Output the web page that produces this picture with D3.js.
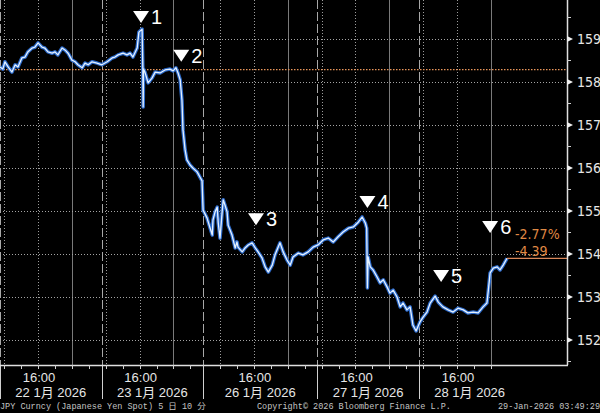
<!DOCTYPE html>
<html>
<head>
<meta charset="utf-8">
<script src="https://cdn.jsdelivr.net/npm/d3@7"></script>
<style>
  html, body { margin: 0; padding: 0; background: #000; }
  svg { display: block; }
</style>
</head>
<body>
<div id="chart"></div>
<script>
// USD/JPY 10 minute bars, Tokyo time
var times = [
  "01-22 07:00", "01-22 07:40", "01-22 08:10", "01-22 08:55", "01-22 09:50", "01-22 10:35",
  "01-22 11:15", "01-22 12:10", "01-22 12:55", "01-22 13:35", "01-22 14:35", "01-22 15:15",
  "01-22 16:00", "01-22 16:55", "01-22 17:35", "01-22 18:20", "01-22 19:20", "01-22 20:00",
  "01-22 20:40", "01-22 21:40", "01-22 22:25", "01-22 23:05", "01-23 00:00", "01-23 00:45",
  "01-23 01:25", "01-23 02:25", "01-23 03:05", "01-23 03:50", "01-23 04:45", "01-23 05:55",
  "01-23 07:05", "01-23 08:20", "01-23 09:30", "01-23 10:10", "01-23 10:55", "01-23 12:05",
  "01-23 13:00", "01-23 13:45", "01-23 14:25", "01-23 15:25", "01-23 15:50", "01-23 16:35",
  "01-23 16:45", "01-23 16:50", "01-23 16:55", "01-23 17:15", "01-23 18:00", "01-23 18:55",
  "01-23 19:40", "01-23 20:50", "01-23 22:00", "01-23 23:10", "01-23 23:55", "01-24 00:35",
  "01-24 01:05", "01-24 01:35", "01-24 02:00", "01-24 02:15", "01-24 02:45", "01-24 03:10",
  "01-24 03:55", "01-24 04:35", "01-24 05:35", "01-24 06:15", "01-24 06:45",
  "01-26 04:00", "01-26 04:55", "01-26 05:40", "01-26 06:10", "01-26 06:20", "01-26 06:50",
  "01-26 07:20", "01-26 07:35", "01-26 08:00", "01-26 08:30", "01-26 08:45", "01-26 09:10",
  "01-26 09:40", "01-26 09:55", "01-26 10:50", "01-26 11:35", "01-26 12:00", "01-26 12:15",
  "01-26 13:15", "01-26 13:55", "01-26 14:40", "01-26 15:35", "01-26 16:20", "01-26 17:00",
  "01-26 17:55", "01-26 18:40", "01-26 19:25", "01-26 20:20", "01-26 21:00", "01-26 22:10",
  "01-26 22:55", "01-26 23:50", "01-27 00:35", "01-27 01:15", "01-27 02:30", "01-27 03:35",
  "01-27 04:50", "01-27 06:00", "01-27 07:10", "01-27 08:25", "01-27 09:35", "01-27 10:45",
  "01-27 11:55", "01-27 13:05", "01-27 14:20", "01-27 15:30", "01-27 16:40", "01-27 17:35",
  "01-27 18:20", "01-27 18:40", "01-27 18:50", "01-27 19:00", "01-27 19:30", "01-27 20:10",
  "01-27 21:05", "01-27 21:50", "01-27 22:35", "01-27 23:30", "01-28 00:10", "01-28 00:55",
  "01-28 01:50", "01-28 02:35", "01-28 03:15", "01-28 04:10", "01-28 04:55", "01-28 05:35",
  "01-28 06:20", "01-28 07:15", "01-28 08:00", "01-28 08:55", "01-28 09:40", "01-28 10:50",
  "01-28 11:35", "01-28 12:40", "01-28 13:55", "01-28 15:05", "01-28 16:15", "01-28 17:30",
  "01-28 18:35", "01-28 19:50", "01-28 21:00", "01-28 22:10", "01-28 23:05", "01-28 23:25",
  "01-28 23:50", "01-29 00:35", "01-29 01:30", "01-29 02:10", "01-29 02:55", "01-29 03:50"
];
var prices = [
  158.35, 158.30, 158.47, 158.35, 158.23, 158.40,
  158.35, 158.56, 158.58, 158.70, 158.79, 158.81,
  158.91, 158.81, 158.79, 158.70, 158.67, 158.70,
  158.63, 158.79, 158.74, 158.67, 158.51, 158.47,
  158.40, 158.33, 158.44, 158.40, 158.47, 158.44,
  158.40, 158.47, 158.56, 158.58, 158.63, 158.67,
  158.63, 158.67, 158.58, 158.79, 159.16, 159.23,
  158.35, 157.42, 158.30, 158.23, 157.98, 158.09,
  158.23, 158.21, 158.28, 158.30, 158.26, 158.33,
  158.21, 158.05, 157.58, 156.88, 156.42, 156.19,
  156.07, 156.00, 155.91, 155.79, 155.70,
  155.02, 154.84, 154.60, 154.44, 154.79, 154.98,
  155.09, 154.72, 154.37, 154.98, 155.26, 155.14,
  154.98, 154.67, 154.44, 154.14, 154.28, 154.16,
  154.05, 154.14, 154.21, 154.26, 154.14, 154.05,
  153.91, 153.70, 153.58, 153.74, 153.98, 154.26,
  154.05, 153.86, 153.74, 153.93, 154.02, 153.98,
  154.05, 154.16, 154.21, 154.33, 154.37, 154.28,
  154.40, 154.51, 154.60, 154.63, 154.74, 154.86,
  154.72, 154.60, 153.21, 153.93, 153.70, 153.63,
  153.47, 153.33, 153.40, 153.23, 153.09, 153.16,
  153.00, 152.77, 152.86, 152.70, 152.77, 152.35,
  152.21, 152.42, 152.53, 152.65, 152.86, 153.02,
  152.88, 152.77, 152.70, 152.65, 152.74, 152.70,
  152.63, 152.65, 152.63, 152.77, 152.86, 153.16,
  153.56, 153.67, 153.70, 153.63, 153.74, 153.90
];

var prevClose = 158.29;
var lastPrice = 153.90;
var changeLabels = ["-2.77%", "-4.39"];

var markerIds = ["1", "2", "3", "4", "5", "6"];
var markerTimes = ["01-23 16:20", "01-24 01:50", "01-26 16:30", "01-27 18:50", "01-28 12:15", "01-28 23:50"];
var markerValues = [159.37, 158.47, 154.67, 155.07, 153.35, 154.49];

var yTicks = [152, 153, 154, 155, 156, 157, 158, 159];
var yMinorTicks = [151.5, 152.5, 153.5, 154.5, 155.5, 156.5, 157.5, 158.5, 159.5];

var dayLabels = ["22 1月 2026", "23 1月 2026", "26 1月 2026", "27 1月 2026", "28 1月 2026"];
var dayStarts = ["01-22 07:00", "01-23 07:00", "01-26 04:00", "01-27 07:00", "01-28 07:00"];
var dayEnds = ["01-23 07:00", "01-24 07:00", "01-27 07:00", "01-28 07:00", "01-29 07:00"];
var hourLabels = ["01-22 16:00", "01-23 16:00", "01-26 16:00", "01-27 16:00", "01-28 16:00"];

var footerLeft = "JPY Curncy (Japanese Yen Spot) 5 日 10 分";
var footerMid = "Copyright© 2026 Bloomberg Finance L.P.";
var footerRight = "29-Jan-2026 03:49:29";

// Set up SVG
var svgWidth = 600;
var svgHeight = 413;
var plotRight = 567;
var plotBottom = 365;

var svg = d3.select("#chart")
  .append("svg")
  .attr("width", svgWidth)
  .attr("height", svgHeight)
  .style("background", "#000");

var parse = d3.timeParse("%Y-%m-%d %H:%M");
function t(s) { return parse("2026-" + s); }

// trading hours since start, weekend gap removed
var start = t("01-22 07:00");
var satClose = t("01-24 07:00");
var monOpen = t("01-26 04:00");
var lastTime = t(times[times.length - 1]);
function tradeHours(d) {
  var h = (d - start) / 3600000;
  if (d >= monOpen) return h - (monOpen - satClose) / 3600000;
  if (d > satClose) return (satClose - start) / 3600000;
  return h;
}

var x = d3.scaleLinear().domain([0, 134]).range([0, plotRight]);
var y = d3.scaleLinear().domain([152, 159]).range([340, 39]);
function xt(s) { return x(tradeHours(typeof s === "string" ? t(s) : s)); }

var data = times.map(function(s, i) { return { time: t(s), price: prices[i] }; });

// hourly grid (every 4h tick, 8h gridline)
var hours = d3.timeHour.range(t("01-22 08:00"), lastTime)
  .filter(function(d) { return d.getHours() % 4 === 0 && !(d > satClose && d < monOpen); });

var grid = svg.append("g");

grid.selectAll(".vgrid")
  .data(hours.filter(function(d) { return d.getHours() % 8 === 0; }))
  .enter().append("line")
  .attr("x1", function(d) { return Math.round(xt(d)) + 0.5; })
  .attr("x2", function(d) { return Math.round(xt(d)) + 0.5; })
  .attr("y1", 0)
  .attr("y2", plotBottom)
  .attr("stroke", function(d) { return d.getHours() === 0 ? "#7a7a7a" : "#9c9c9c"; })
  .attr("stroke-width", 1)
  .attr("stroke-dasharray", function(d) { return d.getHours() === 0 ? null : "1,2"; });

grid.selectAll(".hgrid")
  .data(yTicks)
  .enter().append("line")
  .attr("x1", 0)
  .attr("x2", plotRight)
  .attr("y1", function(d) { return Math.round(y(d)) + 0.5; })
  .attr("y2", function(d) { return Math.round(y(d)) + 0.5; })
  .attr("stroke", "#a4a4a4")
  .attr("stroke-dasharray", "1,2");

// day separators
grid.selectAll(".sep")
  .data(dayStarts)
  .enter().append("line")
  .attr("x1", function(d) { return Math.round(xt(d)) + 0.5; })
  .attr("x2", function(d) { return Math.round(xt(d)) + 0.5; })
  .attr("y1", 0)
  .attr("y2", plotBottom)
  .attr("stroke", "#a8a8a8")
  .attr("stroke-dasharray", "9,3");

grid.selectAll(".septick")
  .data(dayStarts)
  .enter().append("line")
  .attr("x1", function(d) { return Math.round(xt(d)) + 0.5; })
  .attr("x2", function(d) { return Math.round(xt(d)) + 0.5; })
  .attr("y1", plotBottom)
  .attr("y2", 399)
  .attr("stroke", "#d0d0d0");

// previous close reference
svg.append("line")
  .attr("x1", 0)
  .attr("x2", plotRight)
  .attr("y1", y(prevClose))
  .attr("y2", y(prevClose))
  .attr("stroke", "#e8955a")
  .attr("stroke-width", 1.3)
  .attr("stroke-dasharray", "1.5,1.5");

// price line
var line = d3.line()
  .x(function(d) { return xt(d.time); })
  .y(function(d) { return y(d.price); });

svg.append("path")
  .datum(data)
  .attr("d", line)
  .attr("fill", "none")
  .attr("stroke", "#2a68c8")
  .attr("stroke-width", 3.6)
  .attr("stroke-linejoin", "round");

svg.append("path")
  .datum(data)
  .attr("d", line)
  .attr("fill", "none")
  .attr("stroke", "#e4f1ff")
  .attr("stroke-width", 1.3)
  .attr("stroke-linejoin", "round");

// last price line + change labels
var lastX = xt(lastTime);
svg.append("line")
  .attr("x1", lastX)
  .attr("x2", plotRight)
  .attr("y1", y(lastPrice))
  .attr("y2", y(lastPrice))
  .attr("stroke", "#d9875a")
  .attr("stroke-width", 1.2);

svg.selectAll(".chg")
  .data(changeLabels)
  .enter().append("text")
  .attr("x", lastX + 8)
  .attr("y", function(d, i) { return y(lastPrice) - 19 + i * 17; })
  .attr("fill", "#e08a45")
  .attr("font-family", "'Liberation Sans Narrow', 'DejaVu Sans Condensed', sans-serif")
  .attr("font-size", 14)
  .text(function(d) { return d; });

// event markers
var markers = svg.selectAll(".marker")
  .data(markerIds)
  .enter().append("g")
  .attr("transform", function(d, i) {
    return "translate(" + xt(markerTimes[i]) + "," + y(markerValues[i]) + ")";
  });

markers.append("path")
  .attr("d", "M-8,-12L8,-12L0,0Z")
  .attr("fill", "#fff");

markers.append("text")
  .attr("x", 10)
  .attr("y", 1)
  .attr("fill", "#fff")
  .attr("font-family", "'Liberation Sans', Arial, sans-serif")
  .attr("font-size", 20)
  .text(function(d) { return d; });

// axes lines
svg.append("line")
  .attr("x1", 0).attr("x2", plotRight + 1)
  .attr("y1", plotBottom + 0.5).attr("y2", plotBottom + 0.5)
  .attr("stroke", "#e0e0e0").attr("stroke-width", 1.5);

svg.append("line")
  .attr("x1", plotRight + 0.5).attr("x2", plotRight + 0.5)
  .attr("y1", 0).attr("y2", plotBottom)
  .attr("stroke", "#e0e0e0").attr("stroke-width", 1.5);

// x ticks
svg.selectAll(".xtick")
  .data(hours)
  .enter().append("line")
  .attr("x1", function(d) { return Math.round(xt(d)) + 0.5; })
  .attr("x2", function(d) { return Math.round(xt(d)) + 0.5; })
  .attr("y1", plotBottom)
  .attr("y2", plotBottom + 4)
  .attr("stroke", "#d0d0d0");

svg.selectAll(".hourlabel")
  .data(hourLabels)
  .enter().append("text")
  .attr("x", function(d) { return xt(d) + 1; })
  .attr("y", 382)
  .attr("text-anchor", "middle")
  .attr("fill", "#e6e6e6")
  .attr("font-family", "'Liberation Sans', 'Noto Sans CJK JP', sans-serif")
  .attr("font-size", 13)
  .text("16:00");

svg.selectAll(".daylabel")
  .data(dayLabels)
  .enter().append("text")
  .attr("x", function(d, i) { return (xt(dayStarts[i]) + xt(dayEnds[i])) / 2; })
  .attr("y", 397)
  .attr("text-anchor", "middle")
  .attr("fill", "#e6e6e6")
  .attr("font-family", "'Liberation Sans', 'Noto Sans CJK JP', sans-serif")
  .attr("font-size", 13)
  .text(function(d) { return d; });

// y ticks
svg.selectAll(".ymajor")
  .data(yTicks)
  .enter().append("path")
  .attr("d", function(d) { var yy = y(d); return "M" + plotRight + "," + (yy - 3) + "L" + (plotRight + 6) + "," + yy + "L" + plotRight + "," + (yy + 3) + "Z"; })
  .attr("fill", "#f0f0f0");

svg.selectAll(".yminor")
  .data(yMinorTicks)
  .enter().append("line")
  .attr("x1", plotRight)
  .attr("x2", plotRight + 4)
  .attr("y1", function(d) { return y(d); })
  .attr("y2", function(d) { return y(d); })
  .attr("stroke", "#d0d0d0");

svg.selectAll(".ylabel")
  .data(yTicks)
  .enter().append("text")
  .attr("x", plotRight + 10)
  .attr("y", function(d) { return y(d) + 5; })
  .attr("fill", "#e6e6e6")
  .attr("font-family", "'Liberation Sans Narrow', 'DejaVu Sans Condensed', sans-serif")
  .attr("font-size", 14)
  .text(function(d) { return d; });

// footer
var footer = svg.append("g")
  .attr("fill", "#c4c4c4")
  .attr("font-family", "'Liberation Mono', 'Noto Sans CJK JP', monospace")
  .attr("font-size", 8.5);

footer.append("text").attr("x", 0).attr("y", 409).text(footerLeft);
footer.append("text").attr("x", 257).attr("y", 409).text(footerMid);
footer.append("text").attr("x", 600).attr("y", 409).attr("text-anchor", "end").text(footerRight);
</script>
</body>
</html>
